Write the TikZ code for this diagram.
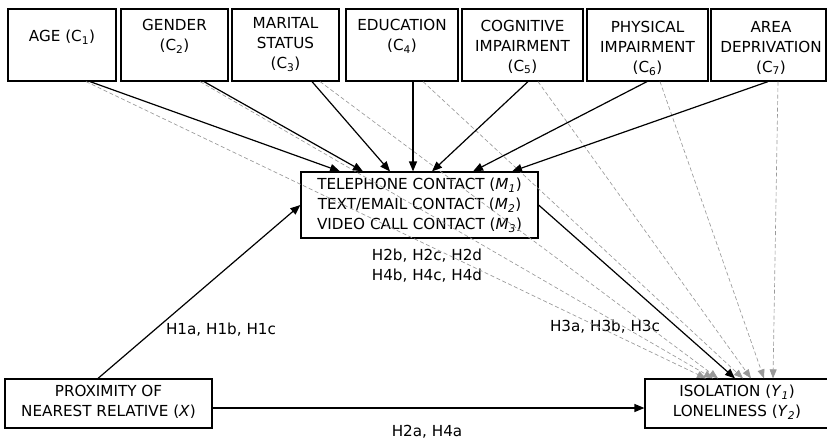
\documentclass[tikz,border=0pt]{standalone}
\usepackage{fontspec}
\setmainfont{DejaVu Sans}
\usetikzlibrary{arrows.meta,calc}
\begin{document}
\begin{tikzpicture}[x=1pt,y=-1pt,
  box/.style={draw, line width=1.2pt, inner sep=0pt},
  txt/.style={align=center, font=\fontsize{15.2}{20}\selectfont, inner sep=0pt},
  solidarrow/.style={line width=1.2pt, -{Triangle[length=10pt,width=8pt]}},
  grayarrow/.style={draw=black!40, line width=0.65pt, dash pattern=on 4pt off 2.5pt,
    -{Triangle[length=9pt,width=7pt]}},
]
\useasboundingbox (0,0) rectangle (827,444);

% top boxes
\node[box, minimum width=108pt, minimum height=72pt] (c1) at (62,45) {};
\node[box, minimum width=107pt, minimum height=72pt] (c2) at (174.5,45) {};
\node[box, minimum width=107pt, minimum height=72pt] (c3) at (285.5,45) {};
\node[box, minimum width=112pt, minimum height=72pt] (c4) at (402,45) {};
\node[box, minimum width=121pt, minimum height=72pt] (c5) at (522.5,45) {};
\node[box, minimum width=121pt, minimum height=72pt] (c6) at (647.5,45) {};
\node[box, minimum width=115pt, minimum height=72pt] (c7) at (768.5,45) {};

\node[txt] (c1t) at (62,37) {AGE (C\textsubscript{1})};
\node[txt] (c2t) at (174.5,36.5) {GENDER\\(C\textsubscript{2})};
\node[txt] (c3t) at (285.5,45) {MARITAL\\STATUS\\(C\textsubscript{3})};
\node[txt] (c4t) at (402,36.5) {EDUCATION\\(C\textsubscript{4})};
\node[txt] (c5t) at (522.5,47) {COGNITIVE\\IMPAIRMENT\\(C\textsubscript{5})};
\node[txt] (c6t) at (647.5,48) {PHYSICAL\\IMPAIRMENT\\(C\textsubscript{6})};
\node[txt] (c7t) at (771,48) {AREA\\DEPRIVATION\\(C\textsubscript{7})};

% mediator, predictor, outcome
\node[box, minimum width=237pt, minimum height=66pt] (med) at (419.5,205) {};
\node[txt] (medt) at (419.5,205) {TELEPHONE CONTACT (\textit{M}\textsubscript{\textit{1}})\\
  TEXT/EMAIL CONTACT (\textit{M}\textsubscript{\textit{2}})\\
  VIDEO CALL CONTACT (\textit{M}\textsubscript{\textit{3}})};

\node[box, minimum width=207pt, minimum height=49pt] (prox) at (108.5,403.5) {};
\node[txt] (proxt) at (108.5,401.5) {PROXIMITY OF\\NEAREST RELATIVE (\textit{X})};

\node[box, minimum width=183pt, minimum height=49pt] (out) at (736.5,403.5) {};
\node[txt] (outt) at (737,402.5) {ISOLATION (\textit{Y}\textsubscript{\textit{1}})\\LONELINESS (\textit{Y}\textsubscript{\textit{2}})};

% labels
\node[txt] (h1) at (221,330) {H1a, H1b, H1c};
\node[txt] (h24) at (427,266) {H2b, H2c, H2d\\H4b, H4c, H4d};
\node[txt] (h3) at (605,327) {H3a, H3b, H3c};
\node[txt] (h2a) at (427,432) {H2a, H4a};

% gray dashed arrows to outcome
\draw[grayarrow] ([xshift=24pt]c1.south) -- ([xshift=-30.5pt]out.north);
\draw[grayarrow] ([xshift=25.5pt]c2.south) -- ([xshift=-23.5pt]out.north);
\draw[grayarrow] ([xshift=34.5pt]c3.south) -- ([xshift=-18.5pt]out.north);
\draw[grayarrow] ([xshift=21pt]c4.south) -- ([xshift=6.5pt]out.north);
\draw[grayarrow] ([xshift=15.5pt]c5.south) -- ([xshift=14.5pt]out.north);
\draw[grayarrow] ([xshift=12.5pt]c6.south) -- ([xshift=27.5pt]out.north);
\draw[grayarrow] ([xshift=9.5pt]c7.south) -- ([xshift=36.5pt]out.north);

% black arrows to mediator
\draw[solidarrow] ([xshift=28pt]c1.south) -- ([xshift=-79.5pt]med.north);
\draw[solidarrow] ([xshift=29.5pt]c2.south) -- ([xshift=-56.5pt]med.north);
\draw[solidarrow] ([xshift=26.5pt]c3.south) -- ([xshift=-29.5pt]med.north);
\draw[solidarrow] ([xshift=11pt]c4.south) -- ([xshift=-6.5pt]med.north);
\draw[solidarrow] ([xshift=5.5pt]c5.south) -- ([xshift=12.5pt]med.north);
\draw[solidarrow] ([xshift=-0.5pt]c6.south) -- ([xshift=53.5pt]med.north);
\draw[solidarrow] ([xshift=-0.5pt]c7.south) -- ([xshift=92.5pt]med.north);

% main paths
\draw[solidarrow] ([xshift=-10.5pt]prox.north) -- (med.west);
\draw[solidarrow] (med.east) -- ([xshift=-1.5pt]out.north);
\draw[solidarrow] ([yshift=-4.5pt]prox.east) -- ([yshift=-4.5pt]out.west);
\end{tikzpicture}
\end{document}
